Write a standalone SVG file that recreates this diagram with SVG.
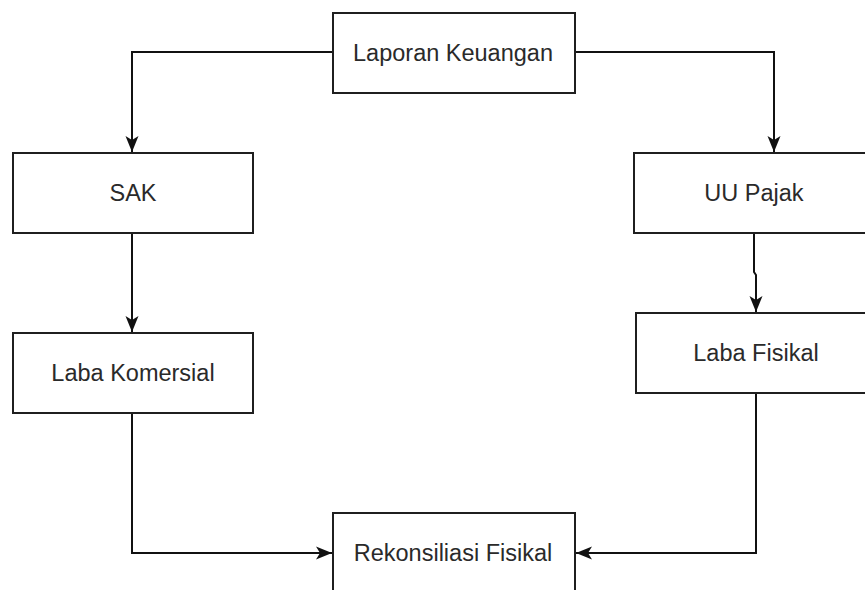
<svg xmlns="http://www.w3.org/2000/svg" width="865" height="590" viewBox="0 0 865 590">
  <style>
    .box { fill: #ffffff; stroke: #1f1f1f; stroke-width: 2; }
    .label { font-family: "Liberation Sans", Arial, sans-serif; font-size: 23.5px; fill: #2a2a2a; text-anchor: middle; }
    .conn { fill: none; stroke: #111111; stroke-width: 2; }
  </style>
  <defs>
    <marker id="arrow" markerUnits="userSpaceOnUse" markerWidth="20" markerHeight="16" viewBox="-17 -8 18 16" refX="0" refY="0" orient="auto">
      <path d="M0,0 L-16,-6.5 L-12,0 L-16,6.5 Z" fill="#111111"/>
    </marker>
  </defs>
  <rect width="865" height="590" fill="#ffffff"/>

  <g id="connectors">
    <path class="conn" d="M333,52 H132 V152" marker-end="url(#arrow)"/>
    <path class="conn" d="M575,52 H774 V152" marker-end="url(#arrow)"/>
    <path class="conn" d="M132,233 V332" marker-end="url(#arrow)"/>
    <path class="conn" d="M754,233 V272 L756,275 V312" marker-end="url(#arrow)"/>
    <path class="conn" d="M132,413 V553 H332" marker-end="url(#arrow)"/>
    <path class="conn" d="M756,393 V553 H576" marker-end="url(#arrow)"/>
  </g>

  <g id="laporan-keuangan">
    <rect class="box" x="333" y="13" width="242" height="80"/>
    <text class="label" x="453" y="60.5">Laporan Keuangan</text>
  </g>
  <g id="sak">
    <rect class="box" x="13" y="153" width="240" height="80"/>
    <text class="label" x="133" y="200.5">SAK</text>
  </g>
  <g id="uu-pajak">
    <rect class="box" x="634" y="153" width="240" height="80"/>
    <text class="label" x="754" y="200.5">UU Pajak</text>
  </g>
  <g id="laba-komersial">
    <rect class="box" x="13" y="333" width="240" height="80"/>
    <text class="label" x="133" y="380.5">Laba Komersial</text>
  </g>
  <g id="laba-fisikal">
    <rect class="box" x="636" y="313" width="240" height="80"/>
    <text class="label" x="756" y="360.5">Laba Fisikal</text>
  </g>
  <g id="rekonsiliasi-fisikal">
    <rect class="box" x="333" y="513" width="242" height="80"/>
    <text class="label" x="453" y="560.5">Rekonsiliasi Fisikal</text>
  </g>
</svg>
